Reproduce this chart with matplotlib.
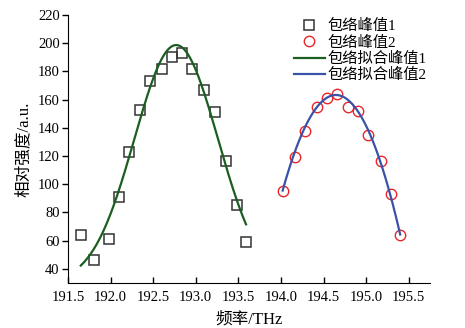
import matplotlib
matplotlib.use("Agg")
import matplotlib.pyplot as plt
import numpy as np

plt.rcParams['font.family'] = ['Liberation Serif', 'Noto Sans CJK SC']
plt.rcParams['font.size'] = 10.5

# 包络峰值1
freq1 = [191.65, 191.80, 191.98, 192.10, 192.22, 192.34, 192.46, 192.60,
         192.72, 192.84, 192.96, 193.10, 193.22, 193.36, 193.48, 193.59]
amp1 = [63.9, 46.4, 61.0, 91.0, 122.9, 152.9, 173.0, 182.0,
        190.0, 193.3, 182.0, 166.9, 151.0, 116.8, 85.1, 58.9]

# 包络峰值2
freq2 = [194.02, 194.16, 194.28, 194.42, 194.54, 194.66,
         194.79, 194.91, 195.02, 195.17, 195.29, 195.40]
amp2 = [95.3, 119.2, 138.0, 155.0, 161.0, 163.8,
        155.0, 152.0, 135.2, 116.5, 92.9, 64.1]

# 拟合峰值1 的高斯参数: 幅值, 中心, 宽度, 基线
fit1_amp, fit1_center, fit1_sigma, fit1_base = 168.7, 192.77, 0.49, 30.0
# 拟合峰值2 的抛物线参数: 峰值, 中心, 曲率
fit2_peak, fit2_center, fit2_k = 163.3, 194.645, 173.5

xticks = [191.5, 192.0, 192.5, 193.0, 193.5, 194.0, 194.5, 195.0, 195.5]
yticks = [40, 60, 80, 100, 120, 140, 160, 180, 200, 220]


fig = plt.figure(figsize=(4.65, 3.28), dpi=100)
ax = fig.add_axes([68 / 465, 1 - 283 / 328, (430 - 68) / 465, (283 - 15) / 328])

# 拟合曲线1: 高斯 + 基线
fx1 = np.linspace(min(freq1), max(freq1), 200)
fy1 = fit1_base + fit1_amp * np.exp(-(fx1 - fit1_center) ** 2 / (2 * fit1_sigma ** 2))

# 拟合曲线2: 抛物线
fx2 = np.linspace(min(freq2), max(freq2), 200)
fy2 = fit2_peak - fit2_k * (fx2 - fit2_center) ** 2

ax.plot(freq1, amp1, 's', mfc='none', mec='#333333', mew=1.1, ms=6.8, label='包络峰值1')
ax.plot(freq2, amp2, 'o', mfc='none', mec='#e8262a', mew=1.0, ms=7.5, label='包络峰值2')
ax.plot(fx1, fy1, color='#1b5e20', lw=1.6, label='包络拟合峰值1')
ax.plot(fx2, fy2, color='#3a52a8', lw=1.6, label='包络拟合峰值2')

ax.set_xlim(191.5, 195.75)
ax.set_ylim(30, 220)
ax.set_xticks(xticks)
ax.set_yticks(yticks)
ax.set_xticklabels([f"{t:.1f}" for t in xticks])
ax.tick_params(axis='x', direction='in', length=4, width=1, pad=6)
ax.tick_params(axis='y', direction='out', length=4, width=1, pad=2)
ax.spines['top'].set_visible(False)
ax.spines['right'].set_visible(False)

ax.set_xlabel('频率/THz', fontsize=12, labelpad=5)
ax.set_ylabel('相对强度/a.u.', fontsize=12, labelpad=4)

ax.legend(loc='upper left', bbox_to_anchor=(294 / 465, 1 - 19 / 328),
          bbox_transform=fig.transFigure, frameon=False, borderpad=0,
          borderaxespad=0, handlelength=2.0, handletextpad=0.2,
          labelspacing=0.15, fontsize=11)

fig.savefig('out.png', dpi=100)
